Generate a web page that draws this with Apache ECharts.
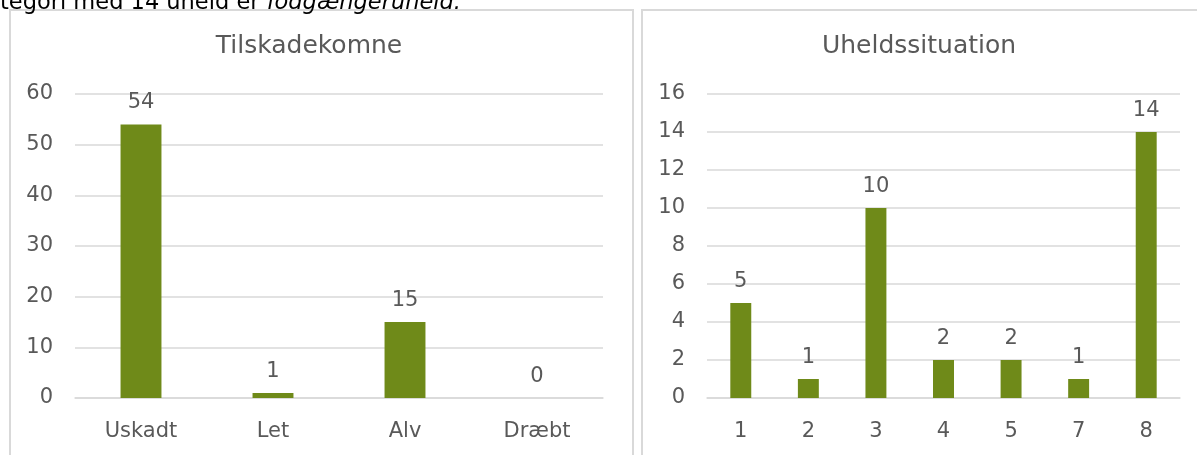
<!DOCTYPE html>
<html>
<head>
<meta charset="utf-8">
<script src="https://cdn.jsdelivr.net/npm/echarts@6/dist/echarts.min.js"></script>
<style>
html,body{margin:0;padding:0;background:#fff;}
#c{width:1197px;height:455px;}
</style>
</head>
<body>
<div id="c"></div>
<script>
const leftTitle = 'Tilskadekomne';
const leftCategories = ['Uskadt', 'Let', 'Alv', 'Dræbt'];
const leftValues = [54, 1, 15, 0];
const rightTitle = 'Uheldssituation';
const rightCategories = ['1', '2', '3', '4', '5', '7', '8'];
const rightValues = [5, 1, 10, 2, 2, 1, 14];
const topTextPlain = 'tegori med 14 uheld er ';
const topTextItalic = 'fodgængeruheld.';

const FONT = 'DejaVu Sans';
const TXT = '#595959';
const GRID = '#d9d9d9';
const BAR = '#6f8a19';
const FS = 21;

const chart = echarts.init(document.getElementById('c'), null, {renderer: 'canvas'});

function yAxis(gridIndex, max, interval) {
  return {
    type: 'value', gridIndex, min: 0, max, interval,
    axisLine: {show: false}, axisTick: {show: false},
    axisLabel: {color: TXT, fontFamily: FONT, fontSize: FS, margin: 22, padding: [3, 0, 0, 0]},
    splitLine: {lineStyle: {color: GRID, width: 1.5}}
  };
}
function xAxis(gridIndex, data) {
  return {
    type: 'category', gridIndex, data,
    axisLine: {lineStyle: {color: GRID, width: 1.5}},
    axisTick: {show: false},
    axisLabel: {color: TXT, fontFamily: FONT, fontSize: FS, margin: 23}
  };
}
function series(idx, data) {
  return {
    type: 'bar', xAxisIndex: idx, yAxisIndex: idx, data,
    barWidth: '31%',
    itemStyle: {color: BAR},
    label: {show: true, position: 'top', distance: 11, color: TXT, fontFamily: FONT, fontSize: FS},
    animation: false
  };
}

chart.setOption({
  animation: false,
  grid: [
    {left: 75, right: 1197 - 603, top: 94, bottom: 455 - 398},
    {left: 707, right: 1197 - 1180, top: 94, bottom: 455 - 398}
  ],
  xAxis: [xAxis(0, leftCategories), xAxis(1, rightCategories)],
  yAxis: [yAxis(0, 60, 10), yAxis(1, 16, 2)],
  series: [series(0, leftValues), series(1, rightValues)],
  graphic: [
    {type: 'rect', shape: {x: 10, y: 10, width: 623, height: 460}, style: {fill: null, stroke: GRID, lineWidth: 2}, silent: true},
    {type: 'rect', shape: {x: 642, y: 10, width: 570, height: 460}, style: {fill: null, stroke: GRID, lineWidth: 2}, silent: true},
    {type: 'text', x: 309, y: 46, style: {text: leftTitle, fill: TXT, font: '25px "' + FONT + '"', align: 'center', verticalAlign: 'middle'}},
    {type: 'text', x: 919, y: 46, style: {text: rightTitle, fill: TXT, font: '25px "' + FONT + '"', align: 'center', verticalAlign: 'middle'}},
    {type: 'text', x: 0, y: 3, style: {
      text: topTextPlain + '{i|' + topTextItalic + '}',
      fill: '#000', fontFamily: FONT, fontSize: 22.5, verticalAlign: 'middle', align: 'left',
      rich: {i: {fontStyle: 'italic', fontFamily: FONT, fontSize: 22.5, fill: '#000'}}
    }}
  ]
});
</script>
</body>
</html>
